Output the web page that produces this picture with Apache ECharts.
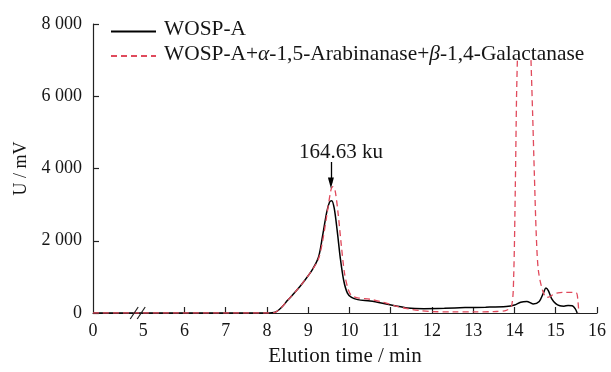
<!DOCTYPE html>
<html>
<head>
<meta charset="utf-8">
<script src="https://cdn.jsdelivr.net/npm/echarts@6/dist/echarts.min.js"></script>
<style>html,body{margin:0;padding:0;background:#fff}#c{width:611px;height:372px}</style>
</head>
<body>
<div id="c"></div>
<script>
// ---- data (elution time in min, signal in mV) ----
const blackTime = [0, 5, 8.0, 8.2, 8.35, 8.5, 8.7, 8.9, 9.1, 9.25, 9.35, 9.45, 9.52, 9.57, 9.63, 9.7, 9.78, 9.86, 9.95, 10.05, 10.2, 10.5, 10.8, 11.1, 11.4, 11.8, 12.3, 12.8, 13.3, 13.8, 14.0, 14.15, 14.3, 14.45, 14.6, 14.7, 14.76, 14.82, 14.9, 15.0, 15.1, 15.2, 15.3, 15.4, 15.47, 15.52];
const blackSignal = [0, 0, 0, 20, 150, 350, 600, 880, 1200, 1550, 2150, 2800, 3080, 3110, 2900, 2300, 1500, 900, 550, 430, 370, 330, 270, 200, 140, 120, 130, 150, 160, 180, 220, 300, 320, 250, 320, 550, 690, 620, 400, 260, 200, 190, 210, 200, 120, 0];
const redTime = [0, 5, 8.0, 8.2, 8.35, 8.5, 8.7, 8.9, 9.1, 9.25, 9.35, 9.45, 9.55, 9.6, 9.65, 9.72, 9.8, 9.88, 9.97, 10.05, 10.2, 10.5, 10.8, 11.1, 11.4, 11.7, 12.0, 12.5, 13.0, 13.5, 13.8, 13.93, 13.98, 14.02, 14.05, 14.07, 14.2, 14.4, 14.44, 14.48, 14.53, 14.58, 14.68, 14.78, 14.85, 14.95, 15.05, 15.2, 15.4, 15.5, 15.54, 15.56];
const redSignal = [0, 0, 0, 20, 150, 350, 600, 880, 1200, 1500, 2000, 2700, 3400, 3500, 3400, 2800, 1900, 1100, 650, 480, 420, 380, 300, 200, 120, 70, 40, 30, 30, 40, 70, 200, 1000, 3500, 6000, 7000, null, 7000, 5500, 3900, 2100, 1170, 630, 430, 450, 520, 560, 570, 570, 560, 300, 0];
const xTickValues = [6, 7, 8, 9, 10, 11, 12, 13, 14, 15, 16];
const xLabelValues = [0, 5, 6, 7, 8, 9, 10, 11, 12, 13, 14, 15, 16];
const seriesNames = ['WOSP-A', 'WOSP-A+α-1,5-Arabinanase+β-1,4-Galactanase'];
const peakTime = 9.55;
const peakLabel = '164.63 ku';

// ---- broken x axis: 0..5 compressed ----
const K = 0.2434;            // axis units per minute in 0..5 segment
const B = 5 * K;             // axis position of t = 5
function toAxis(t) { return t <= 5 ? t * K : B + (t - 5); }
function fromAxis(u) { return u <= B + 1e-9 ? u / K : u - B + 5; }

const pair = (ts, vs) => ts.map((t, i) => [toAxis(t), vs[i]]);
const FONT = 'Liberation Serif';
const TXT = '#151515';
const LFS = 21.4;

const chart = echarts.init(document.getElementById('c'), null, {renderer: 'canvas'});
const option = {
  animation: false,
  backgroundColor: '#fff',
  textStyle: {fontFamily: FONT, color: TXT},
  grid: {left: 93, right: 14, top: 24, bottom: 56},
  legend: {
    orient: 'vertical', left: 110, top: 19, itemGap: 0, padding: 0,
    itemWidth: 45, itemHeight: 10,
    itemStyle: {opacity: 0},
    textStyle: {
      fontFamily: FONT, fontSize: LFS, color: TXT, lineHeight: 20, padding: [0, 0, 4, 3],
      rich: {n: {fontFamily: FONT, fontSize: LFS, color: TXT, lineHeight: 20},
             i: {fontFamily: FONT, fontSize: LFS, fontStyle: 'italic', color: TXT, lineHeight: 20}}
    },
    formatter: function (name) {
      if (name === seriesNames[0]) return '{n|' + name + '}';
      return '{n|WOSP-A+}{i|α}{n|-1,5-Arabinanase+}{i|β}{n|-1,4-Galactanase}';
    },
    data: seriesNames
  },
  xAxis: {
    type: 'value', min: 0, max: toAxis(16),
    name: 'Elution time / min', nameLocation: 'middle', nameGap: 33,
    nameTextStyle: {fontFamily: FONT, fontSize: 21, color: TXT},
    axisLine: {lineStyle: {color: '#222', width: 1.2}},
    axisTick: {inside: true, length: 6, lineStyle: {color: '#222', width: 1.2}, customValues: xTickValues.map(toAxis)},
    axisLabel: {fontFamily: FONT, fontSize: 18, color: TXT, margin: 9,
      customValues: xLabelValues.map(toAxis),
      formatter: v => String(Math.round(fromAxis(v)))},
    splitLine: {show: false}
  },
  yAxis: {
    type: 'value', min: 0, max: 8000, interval: 2000,
    name: 'U / mV', nameLocation: 'middle', nameGap: 53, nameRotate: 90,
    nameTextStyle: {fontFamily: FONT, fontSize: 18, color: TXT},
    axisLine: {show: true, lineStyle: {color: '#222', width: 1.2}},
    axisTick: {inside: true, length: 6, lineStyle: {color: '#222', width: 1.2}},
    axisLabel: {fontFamily: FONT, fontSize: 18, color: TXT, margin: 11,
      formatter: v => v >= 1000 ? String(Math.floor(v / 1000)) + ' ' + String(v % 1000).padStart(3, '0') : String(v)},
    splitLine: {show: false}
  },
  series: [
    {
      name: seriesNames[0], type: 'line', data: pair(blackTime, blackSignal),
      smooth: 0.3, showSymbol: false, symbol: 'none', z: 2,
      lineStyle: {color: '#000', width: 1.5},
      itemStyle: {color: '#000'},
      markLine: {
        silent: true, animation: false,
        symbol: ['none', 'triangle'], symbolSize: [6, 11],
        lineStyle: {color: '#000', width: 1.3, type: 'solid'},
        label: {show: true, position: 'start', formatter: peakLabel, fontFamily: FONT, fontSize: 21, color: TXT, distance: 3, offset: [10, 4]},
        data: [[{coord: [toAxis(peakTime), 4180]}, {coord: [toAxis(peakTime), 3600]}]]
      }
    },
    {
      name: seriesNames[1], type: 'line', data: pair(redTime, redSignal),
      smooth: 0.3, showSymbol: false, symbol: 'none', z: 3, connectNulls: false,
      lineStyle: {color: '#e04a5c', width: 1.3, type: [6, 4]},
      itemStyle: {color: '#e04a5c'}
    }
  ]
};
chart.setOption(option);

// axis break marks at t = 5
const p = chart.convertToPixel({gridIndex: 0}, [toAxis(5), 0]);
const cx = p[0] - 4, cy = p[1];
chart.setOption({
  graphic: [
    {type: 'line', shape: {x1: cx - 9, y1: cy + 6, x2: cx - 1, y2: cy - 6}, style: {stroke: '#222', lineWidth: 1.2}, z: 10},
    {type: 'line', shape: {x1: cx - 2, y1: cy + 6, x2: cx + 6, y2: cy - 6}, style: {stroke: '#222', lineWidth: 1.2}, z: 10}
  ]
});
</script>
</body>
</html>
